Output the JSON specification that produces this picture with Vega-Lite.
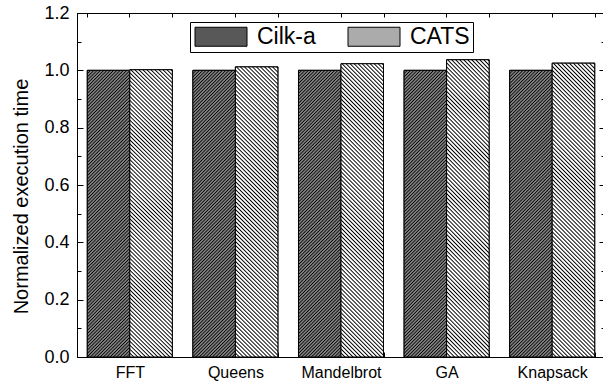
{
  "$schema": "https://vega.github.io/schema/vega-lite/v6.json",
  "width": 528,
  "height": 344,
  "autosize": "none",
  "padding": {"left": 77, "top": 13, "right": 0, "bottom": 24},
  "background": "white",
  "config": {
    "font": "Liberation Sans",
    "view": {"stroke": "black", "strokeWidth": 1},
    "axis": {"domainColor": "black", "tickColor": "black", "labelColor": "black", "titleColor": "black", "grid": false, "domainWidth": 1, "tickWidth": 1}
  },
  "data": {
    "values": [
      {"benchmark": "FFT", "system": "Cilk-a", "value": 1.0},
      {"benchmark": "FFT", "system": "CATS", "value": 1.002},
      {"benchmark": "Queens", "system": "Cilk-a", "value": 1.0},
      {"benchmark": "Queens", "system": "CATS", "value": 1.012},
      {"benchmark": "Mandelbrot", "system": "Cilk-a", "value": 1.0},
      {"benchmark": "Mandelbrot", "system": "CATS", "value": 1.023},
      {"benchmark": "GA", "system": "Cilk-a", "value": 1.0},
      {"benchmark": "GA", "system": "CATS", "value": 1.037},
      {"benchmark": "Knapsack", "system": "Cilk-a", "value": 1.0},
      {"benchmark": "Knapsack", "system": "CATS", "value": 1.025}
    ]
  },
  "layer": [
    {
      "mark": {"type": "bar", "stroke": "black", "strokeWidth": 1},
      "encoding": {
        "x": {
          "field": "benchmark", "type": "nominal",
          "sort": ["FFT", "Queens", "Mandelbrot", "GA", "Knapsack"],
          "scale": {"paddingInner": 0.195, "paddingOuter": 0.0975},
          "axis": {"orient": "top", "title": null, "labels": false, "domain": false, "tickBand": "extent", "tickSize": -4}
        },
        "xOffset": {"field": "system", "type": "nominal", "sort": ["Cilk-a", "CATS"], "scale": {"paddingInner": 0, "paddingOuter": 0}},
        "y": {
          "field": "value", "type": "quantitative",
          "scale": {"domain": [0, 1.2], "nice": false, "zero": true},
          "axis": {
            "orient": "right", "title": null, "labels": false, "domain": false,
            "values": [0, 0.1, 0.2, 0.3, 0.4, 0.5, 0.6, 0.7, 0.8, 0.9, 1.0, 1.1, 1.2],
            "tickSize": {"condition": {"test": "round(datum.value*10)%2==0", "value": -6}, "value": -4}
          }
        },
        "fill": {
          "field": "system", "type": "nominal", "sort": ["Cilk-a", "CATS"],
          "scale": {"domain": ["Cilk-a", "CATS"], "range": ["#585858", "#ababab"]},
          "legend": {
            "orient": "none", "legendX": 113, "legendY": 9, "direction": "horizontal",
            "title": null,
            "symbolType": "M-1,-1H4.474V1H-1Z", "symbolSize": 361,
            "symbolStrokeColor": "black", "symbolStrokeWidth": 1, "symbolOpacity": 1,
            "labelFontSize": 23, "labelFont": "Liberation Sans", "labelColor": "black",
            "labelOffset": 41, "columnPadding": 30, "padding": 3,
            "strokeColor": "black", "fillColor": "white"
          }
        }
      }
    },
    {
      "mark": {"type": "bar", "stroke": "black", "strokeWidth": 1},
      "encoding": {
        "x": {
          "field": "benchmark", "type": "nominal",
          "sort": ["FFT", "Queens", "Mandelbrot", "GA", "Knapsack"],
          "scale": {"paddingInner": 0.195, "paddingOuter": 0.0975},
          "axis": {"orient": "bottom", "title": null, "labelAngle": 0, "labelFontSize": 16, "labelPadding": 12, "tickBand": "extent", "tickSize": -5, "domain": true}
        },
        "xOffset": {"field": "system", "type": "nominal", "sort": ["Cilk-a", "CATS"], "scale": {"paddingInner": 0, "paddingOuter": 0}},
        "y": {
          "field": "value", "type": "quantitative",
          "scale": {"domain": [0, 1.2], "nice": false, "zero": true},
          "axis": {
            "orient": "left",
            "title": "Normalized execution time",
            "titleFontSize": 20, "titleFontWeight": "normal", "titleFont": "Liberation Sans",
            "titleAngle": 270, "titleAlign": "center", "titleBaseline": "alphabetic",
            "titleX": -50, "titleY": 183,
            "values": [0, 0.1, 0.2, 0.3, 0.4, 0.5, 0.6, 0.7, 0.8, 0.9, 1.0, 1.1, 1.2],
            "labelExpr": "round(datum.value*10)%2==0 ? format(datum.value, '.1f') : ''",
            "labelFontSize": 18, "labelPadding": 14,
            "tickSize": {"condition": {"test": "round(datum.value*10)%2==0", "value": -6}, "value": -4}
          }
        },
        "fill": {
          "condition": {"test": "datum.system === 'Cilk-a'", "value": {"gradient": "linear", "x1": 0, "y1": 0, "x2": 0.16657, "y2": 1.12355, "stops": [
            {"offset":0,"color":"#000"},{"offset":0.0033,"color":"#808080"},{"offset":0.0067,"color":"#808080"},
            {"offset":0.01,"color":"#000"},{"offset":0.0133,"color":"#808080"},{"offset":0.0167,"color":"#808080"},
            {"offset":0.02,"color":"#000"},{"offset":0.0233,"color":"#808080"},{"offset":0.0267,"color":"#808080"},
            {"offset":0.03,"color":"#000"},{"offset":0.0333,"color":"#808080"},{"offset":0.0367,"color":"#808080"},
            {"offset":0.04,"color":"#000"},{"offset":0.0433,"color":"#808080"},{"offset":0.0467,"color":"#808080"},
            {"offset":0.05,"color":"#000"},{"offset":0.0533,"color":"#808080"},{"offset":0.0567,"color":"#808080"},
            {"offset":0.06,"color":"#000"},{"offset":0.0633,"color":"#808080"},{"offset":0.0667,"color":"#808080"},
            {"offset":0.07,"color":"#000"},{"offset":0.0733,"color":"#808080"},{"offset":0.0767,"color":"#808080"},
            {"offset":0.08,"color":"#000"},{"offset":0.0833,"color":"#808080"},{"offset":0.0867,"color":"#808080"},
            {"offset":0.09,"color":"#000"},{"offset":0.0933,"color":"#808080"},{"offset":0.0967,"color":"#808080"},
            {"offset":0.1,"color":"#000"},{"offset":0.1033,"color":"#808080"},{"offset":0.1067,"color":"#808080"},
            {"offset":0.11,"color":"#000"},{"offset":0.1133,"color":"#808080"},{"offset":0.1167,"color":"#808080"},
            {"offset":0.12,"color":"#000"},{"offset":0.1233,"color":"#808080"},{"offset":0.1267,"color":"#808080"},
            {"offset":0.13,"color":"#000"},{"offset":0.1333,"color":"#808080"},{"offset":0.1367,"color":"#808080"},
            {"offset":0.14,"color":"#000"},{"offset":0.1433,"color":"#808080"},{"offset":0.1467,"color":"#808080"},
            {"offset":0.15,"color":"#000"},{"offset":0.1533,"color":"#808080"},{"offset":0.1567,"color":"#808080"},
            {"offset":0.16,"color":"#000"},{"offset":0.1633,"color":"#808080"},{"offset":0.1667,"color":"#808080"},
            {"offset":0.17,"color":"#000"},{"offset":0.1733,"color":"#808080"},{"offset":0.1767,"color":"#808080"},
            {"offset":0.18,"color":"#000"},{"offset":0.1833,"color":"#808080"},{"offset":0.1867,"color":"#808080"},
            {"offset":0.19,"color":"#000"},{"offset":0.1933,"color":"#808080"},{"offset":0.1967,"color":"#808080"},
            {"offset":0.2,"color":"#000"},{"offset":0.2033,"color":"#808080"},{"offset":0.2067,"color":"#808080"},
            {"offset":0.21,"color":"#000"},{"offset":0.2133,"color":"#808080"},{"offset":0.2167,"color":"#808080"},
            {"offset":0.22,"color":"#000"},{"offset":0.2233,"color":"#808080"},{"offset":0.2267,"color":"#808080"},
            {"offset":0.23,"color":"#000"},{"offset":0.2333,"color":"#808080"},{"offset":0.2367,"color":"#808080"},
            {"offset":0.24,"color":"#000"},{"offset":0.2433,"color":"#808080"},{"offset":0.2467,"color":"#808080"},
            {"offset":0.25,"color":"#000"},{"offset":0.2533,"color":"#808080"},{"offset":0.2567,"color":"#808080"},
            {"offset":0.26,"color":"#000"},{"offset":0.2633,"color":"#808080"},{"offset":0.2667,"color":"#808080"},
            {"offset":0.27,"color":"#000"},{"offset":0.2733,"color":"#808080"},{"offset":0.2767,"color":"#808080"},
            {"offset":0.28,"color":"#000"},{"offset":0.2833,"color":"#808080"},{"offset":0.2867,"color":"#808080"},
            {"offset":0.29,"color":"#000"},{"offset":0.2933,"color":"#808080"},{"offset":0.2967,"color":"#808080"},
            {"offset":0.3,"color":"#000"},{"offset":0.3033,"color":"#808080"},{"offset":0.3067,"color":"#808080"},
            {"offset":0.31,"color":"#000"},{"offset":0.3133,"color":"#808080"},{"offset":0.3167,"color":"#808080"},
            {"offset":0.32,"color":"#000"},{"offset":0.3233,"color":"#808080"},{"offset":0.3267,"color":"#808080"},
            {"offset":0.33,"color":"#000"},{"offset":0.3333,"color":"#808080"},{"offset":0.3367,"color":"#808080"},
            {"offset":0.34,"color":"#000"},{"offset":0.3433,"color":"#808080"},{"offset":0.3467,"color":"#808080"},
            {"offset":0.35,"color":"#000"},{"offset":0.3533,"color":"#808080"},{"offset":0.3567,"color":"#808080"},
            {"offset":0.36,"color":"#000"},{"offset":0.3633,"color":"#808080"},{"offset":0.3667,"color":"#808080"},
            {"offset":0.37,"color":"#000"},{"offset":0.3733,"color":"#808080"},{"offset":0.3767,"color":"#808080"},
            {"offset":0.38,"color":"#000"},{"offset":0.3833,"color":"#808080"},{"offset":0.3867,"color":"#808080"},
            {"offset":0.39,"color":"#000"},{"offset":0.3933,"color":"#808080"},{"offset":0.3967,"color":"#808080"},
            {"offset":0.4,"color":"#000"},{"offset":0.4033,"color":"#808080"},{"offset":0.4067,"color":"#808080"},
            {"offset":0.41,"color":"#000"},{"offset":0.4133,"color":"#808080"},{"offset":0.4167,"color":"#808080"},
            {"offset":0.42,"color":"#000"},{"offset":0.4233,"color":"#808080"},{"offset":0.4267,"color":"#808080"},
            {"offset":0.43,"color":"#000"},{"offset":0.4333,"color":"#808080"},{"offset":0.4367,"color":"#808080"},
            {"offset":0.44,"color":"#000"},{"offset":0.4433,"color":"#808080"},{"offset":0.4467,"color":"#808080"},
            {"offset":0.45,"color":"#000"},{"offset":0.4533,"color":"#808080"},{"offset":0.4567,"color":"#808080"},
            {"offset":0.46,"color":"#000"},{"offset":0.4633,"color":"#808080"},{"offset":0.4667,"color":"#808080"},
            {"offset":0.47,"color":"#000"},{"offset":0.4733,"color":"#808080"},{"offset":0.4767,"color":"#808080"},
            {"offset":0.48,"color":"#000"},{"offset":0.4833,"color":"#808080"},{"offset":0.4867,"color":"#808080"},
            {"offset":0.49,"color":"#000"},{"offset":0.4933,"color":"#808080"},{"offset":0.4967,"color":"#808080"},
            {"offset":0.5,"color":"#000"},{"offset":0.5033,"color":"#808080"},{"offset":0.5067,"color":"#808080"},
            {"offset":0.51,"color":"#000"},{"offset":0.5133,"color":"#808080"},{"offset":0.5167,"color":"#808080"},
            {"offset":0.52,"color":"#000"},{"offset":0.5233,"color":"#808080"},{"offset":0.5267,"color":"#808080"},
            {"offset":0.53,"color":"#000"},{"offset":0.5333,"color":"#808080"},{"offset":0.5367,"color":"#808080"},
            {"offset":0.54,"color":"#000"},{"offset":0.5433,"color":"#808080"},{"offset":0.5467,"color":"#808080"},
            {"offset":0.55,"color":"#000"},{"offset":0.5533,"color":"#808080"},{"offset":0.5567,"color":"#808080"},
            {"offset":0.56,"color":"#000"},{"offset":0.5633,"color":"#808080"},{"offset":0.5667,"color":"#808080"},
            {"offset":0.57,"color":"#000"},{"offset":0.5733,"color":"#808080"},{"offset":0.5767,"color":"#808080"},
            {"offset":0.58,"color":"#000"},{"offset":0.5833,"color":"#808080"},{"offset":0.5867,"color":"#808080"},
            {"offset":0.59,"color":"#000"},{"offset":0.5933,"color":"#808080"},{"offset":0.5967,"color":"#808080"},
            {"offset":0.6,"color":"#000"},{"offset":0.6033,"color":"#808080"},{"offset":0.6067,"color":"#808080"},
            {"offset":0.61,"color":"#000"},{"offset":0.6133,"color":"#808080"},{"offset":0.6167,"color":"#808080"},
            {"offset":0.62,"color":"#000"},{"offset":0.6233,"color":"#808080"},{"offset":0.6267,"color":"#808080"},
            {"offset":0.63,"color":"#000"},{"offset":0.6333,"color":"#808080"},{"offset":0.6367,"color":"#808080"},
            {"offset":0.64,"color":"#000"},{"offset":0.6433,"color":"#808080"},{"offset":0.6467,"color":"#808080"},
            {"offset":0.65,"color":"#000"},{"offset":0.6533,"color":"#808080"},{"offset":0.6567,"color":"#808080"},
            {"offset":0.66,"color":"#000"},{"offset":0.6633,"color":"#808080"},{"offset":0.6667,"color":"#808080"},
            {"offset":0.67,"color":"#000"},{"offset":0.6733,"color":"#808080"},{"offset":0.6767,"color":"#808080"},
            {"offset":0.68,"color":"#000"},{"offset":0.6833,"color":"#808080"},{"offset":0.6867,"color":"#808080"},
            {"offset":0.69,"color":"#000"},{"offset":0.6933,"color":"#808080"},{"offset":0.6967,"color":"#808080"},
            {"offset":0.7,"color":"#000"},{"offset":0.7033,"color":"#808080"},{"offset":0.7067,"color":"#808080"},
            {"offset":0.71,"color":"#000"},{"offset":0.7133,"color":"#808080"},{"offset":0.7167,"color":"#808080"},
            {"offset":0.72,"color":"#000"},{"offset":0.7233,"color":"#808080"},{"offset":0.7267,"color":"#808080"},
            {"offset":0.73,"color":"#000"},{"offset":0.7333,"color":"#808080"},{"offset":0.7367,"color":"#808080"},
            {"offset":0.74,"color":"#000"},{"offset":0.7433,"color":"#808080"},{"offset":0.7467,"color":"#808080"},
            {"offset":0.75,"color":"#000"},{"offset":0.7533,"color":"#808080"},{"offset":0.7567,"color":"#808080"},
            {"offset":0.76,"color":"#000"},{"offset":0.7633,"color":"#808080"},{"offset":0.7667,"color":"#808080"},
            {"offset":0.77,"color":"#000"},{"offset":0.7733,"color":"#808080"},{"offset":0.7767,"color":"#808080"},
            {"offset":0.78,"color":"#000"},{"offset":0.7833,"color":"#808080"},{"offset":0.7867,"color":"#808080"},
            {"offset":0.79,"color":"#000"},{"offset":0.7933,"color":"#808080"},{"offset":0.7967,"color":"#808080"},
            {"offset":0.8,"color":"#000"},{"offset":0.8033,"color":"#808080"},{"offset":0.8067,"color":"#808080"},
            {"offset":0.81,"color":"#000"},{"offset":0.8133,"color":"#808080"},{"offset":0.8167,"color":"#808080"},
            {"offset":0.82,"color":"#000"},{"offset":0.8233,"color":"#808080"},{"offset":0.8267,"color":"#808080"},
            {"offset":0.83,"color":"#000"},{"offset":0.8333,"color":"#808080"},{"offset":0.8367,"color":"#808080"},
            {"offset":0.84,"color":"#000"},{"offset":0.8433,"color":"#808080"},{"offset":0.8467,"color":"#808080"},
            {"offset":0.85,"color":"#000"},{"offset":0.8533,"color":"#808080"},{"offset":0.8567,"color":"#808080"},
            {"offset":0.86,"color":"#000"},{"offset":0.8633,"color":"#808080"},{"offset":0.8667,"color":"#808080"},
            {"offset":0.87,"color":"#000"},{"offset":0.8733,"color":"#808080"},{"offset":0.8767,"color":"#808080"},
            {"offset":0.88,"color":"#000"},{"offset":0.8833,"color":"#808080"},{"offset":0.8867,"color":"#808080"},
            {"offset":0.89,"color":"#000"},{"offset":0.8933,"color":"#808080"},{"offset":0.8967,"color":"#808080"},
            {"offset":0.9,"color":"#000"},{"offset":0.9033,"color":"#808080"},{"offset":0.9067,"color":"#808080"},
            {"offset":0.91,"color":"#000"},{"offset":0.9133,"color":"#808080"},{"offset":0.9167,"color":"#808080"},
            {"offset":0.92,"color":"#000"},{"offset":0.9233,"color":"#808080"},{"offset":0.9267,"color":"#808080"},
            {"offset":0.93,"color":"#000"},{"offset":0.9333,"color":"#808080"},{"offset":0.9367,"color":"#808080"},
            {"offset":0.94,"color":"#000"},{"offset":0.9433,"color":"#808080"},{"offset":0.9467,"color":"#808080"},
            {"offset":0.95,"color":"#000"},{"offset":0.9533,"color":"#808080"},{"offset":0.9567,"color":"#808080"},
            {"offset":0.96,"color":"#000"},{"offset":0.9633,"color":"#808080"},{"offset":0.9667,"color":"#808080"},
            {"offset":0.97,"color":"#000"},{"offset":0.9733,"color":"#808080"},{"offset":0.9767,"color":"#808080"},
            {"offset":0.98,"color":"#000"},{"offset":0.9833,"color":"#808080"},{"offset":0.9867,"color":"#808080"},
            {"offset":0.99,"color":"#000"},{"offset":0.9933,"color":"#808080"},{"offset":0.9967,"color":"#808080"},
            {"offset":1,"color":"#000"}
          ]}},
          "value": {"gradient": "linear", "x1": 0, "y1": 1, "x2": 0.16327, "y2": -0.12177, "stops": [
            {"offset":0,"color":"#000"},{"offset":0.004,"color":"#fff"},{"offset":0.008,"color":"#fff"},
            {"offset":0.012,"color":"#000"},{"offset":0.016,"color":"#fff"},{"offset":0.02,"color":"#fff"},
            {"offset":0.024,"color":"#000"},{"offset":0.028,"color":"#fff"},{"offset":0.032,"color":"#fff"},
            {"offset":0.036,"color":"#000"},{"offset":0.04,"color":"#fff"},{"offset":0.044,"color":"#fff"},
            {"offset":0.048,"color":"#000"},{"offset":0.052,"color":"#fff"},{"offset":0.056,"color":"#fff"},
            {"offset":0.06,"color":"#000"},{"offset":0.064,"color":"#fff"},{"offset":0.068,"color":"#fff"},
            {"offset":0.072,"color":"#000"},{"offset":0.076,"color":"#fff"},{"offset":0.08,"color":"#fff"},
            {"offset":0.084,"color":"#000"},{"offset":0.088,"color":"#fff"},{"offset":0.092,"color":"#fff"},
            {"offset":0.096,"color":"#000"},{"offset":0.1,"color":"#fff"},{"offset":0.104,"color":"#fff"},
            {"offset":0.108,"color":"#000"},{"offset":0.112,"color":"#fff"},{"offset":0.116,"color":"#fff"},
            {"offset":0.12,"color":"#000"},{"offset":0.124,"color":"#fff"},{"offset":0.128,"color":"#fff"},
            {"offset":0.132,"color":"#000"},{"offset":0.136,"color":"#fff"},{"offset":0.14,"color":"#fff"},
            {"offset":0.144,"color":"#000"},{"offset":0.148,"color":"#fff"},{"offset":0.152,"color":"#fff"},
            {"offset":0.156,"color":"#000"},{"offset":0.16,"color":"#fff"},{"offset":0.164,"color":"#fff"},
            {"offset":0.168,"color":"#000"},{"offset":0.172,"color":"#fff"},{"offset":0.176,"color":"#fff"},
            {"offset":0.18,"color":"#000"},{"offset":0.184,"color":"#fff"},{"offset":0.188,"color":"#fff"},
            {"offset":0.192,"color":"#000"},{"offset":0.196,"color":"#fff"},{"offset":0.2,"color":"#fff"},
            {"offset":0.204,"color":"#000"},{"offset":0.208,"color":"#fff"},{"offset":0.212,"color":"#fff"},
            {"offset":0.216,"color":"#000"},{"offset":0.22,"color":"#fff"},{"offset":0.224,"color":"#fff"},
            {"offset":0.228,"color":"#000"},{"offset":0.232,"color":"#fff"},{"offset":0.236,"color":"#fff"},
            {"offset":0.24,"color":"#000"},{"offset":0.244,"color":"#fff"},{"offset":0.248,"color":"#fff"},
            {"offset":0.252,"color":"#000"},{"offset":0.256,"color":"#fff"},{"offset":0.26,"color":"#fff"},
            {"offset":0.264,"color":"#000"},{"offset":0.268,"color":"#fff"},{"offset":0.272,"color":"#fff"},
            {"offset":0.276,"color":"#000"},{"offset":0.28,"color":"#fff"},{"offset":0.284,"color":"#fff"},
            {"offset":0.288,"color":"#000"},{"offset":0.292,"color":"#fff"},{"offset":0.296,"color":"#fff"},
            {"offset":0.3,"color":"#000"},{"offset":0.304,"color":"#fff"},{"offset":0.308,"color":"#fff"},
            {"offset":0.312,"color":"#000"},{"offset":0.316,"color":"#fff"},{"offset":0.32,"color":"#fff"},
            {"offset":0.324,"color":"#000"},{"offset":0.328,"color":"#fff"},{"offset":0.332,"color":"#fff"},
            {"offset":0.336,"color":"#000"},{"offset":0.34,"color":"#fff"},{"offset":0.344,"color":"#fff"},
            {"offset":0.348,"color":"#000"},{"offset":0.352,"color":"#fff"},{"offset":0.356,"color":"#fff"},
            {"offset":0.36,"color":"#000"},{"offset":0.364,"color":"#fff"},{"offset":0.368,"color":"#fff"},
            {"offset":0.372,"color":"#000"},{"offset":0.376,"color":"#fff"},{"offset":0.38,"color":"#fff"},
            {"offset":0.384,"color":"#000"},{"offset":0.388,"color":"#fff"},{"offset":0.392,"color":"#fff"},
            {"offset":0.396,"color":"#000"},{"offset":0.4,"color":"#fff"},{"offset":0.404,"color":"#fff"},
            {"offset":0.408,"color":"#000"},{"offset":0.412,"color":"#fff"},{"offset":0.416,"color":"#fff"},
            {"offset":0.42,"color":"#000"},{"offset":0.424,"color":"#fff"},{"offset":0.428,"color":"#fff"},
            {"offset":0.432,"color":"#000"},{"offset":0.436,"color":"#fff"},{"offset":0.44,"color":"#fff"},
            {"offset":0.444,"color":"#000"},{"offset":0.448,"color":"#fff"},{"offset":0.452,"color":"#fff"},
            {"offset":0.456,"color":"#000"},{"offset":0.46,"color":"#fff"},{"offset":0.464,"color":"#fff"},
            {"offset":0.468,"color":"#000"},{"offset":0.472,"color":"#fff"},{"offset":0.476,"color":"#fff"},
            {"offset":0.48,"color":"#000"},{"offset":0.484,"color":"#fff"},{"offset":0.488,"color":"#fff"},
            {"offset":0.492,"color":"#000"},{"offset":0.496,"color":"#fff"},{"offset":0.5,"color":"#fff"},
            {"offset":0.504,"color":"#000"},{"offset":0.508,"color":"#fff"},{"offset":0.512,"color":"#fff"},
            {"offset":0.516,"color":"#000"},{"offset":0.52,"color":"#fff"},{"offset":0.524,"color":"#fff"},
            {"offset":0.528,"color":"#000"},{"offset":0.532,"color":"#fff"},{"offset":0.536,"color":"#fff"},
            {"offset":0.54,"color":"#000"},{"offset":0.544,"color":"#fff"},{"offset":0.548,"color":"#fff"},
            {"offset":0.552,"color":"#000"},{"offset":0.556,"color":"#fff"},{"offset":0.56,"color":"#fff"},
            {"offset":0.564,"color":"#000"},{"offset":0.568,"color":"#fff"},{"offset":0.572,"color":"#fff"},
            {"offset":0.576,"color":"#000"},{"offset":0.58,"color":"#fff"},{"offset":0.584,"color":"#fff"},
            {"offset":0.588,"color":"#000"},{"offset":0.592,"color":"#fff"},{"offset":0.596,"color":"#fff"},
            {"offset":0.6,"color":"#000"},{"offset":0.604,"color":"#fff"},{"offset":0.608,"color":"#fff"},
            {"offset":0.612,"color":"#000"},{"offset":0.616,"color":"#fff"},{"offset":0.62,"color":"#fff"},
            {"offset":0.624,"color":"#000"},{"offset":0.628,"color":"#fff"},{"offset":0.632,"color":"#fff"},
            {"offset":0.636,"color":"#000"},{"offset":0.64,"color":"#fff"},{"offset":0.644,"color":"#fff"},
            {"offset":0.648,"color":"#000"},{"offset":0.652,"color":"#fff"},{"offset":0.656,"color":"#fff"},
            {"offset":0.66,"color":"#000"},{"offset":0.664,"color":"#fff"},{"offset":0.668,"color":"#fff"},
            {"offset":0.672,"color":"#000"},{"offset":0.676,"color":"#fff"},{"offset":0.68,"color":"#fff"},
            {"offset":0.684,"color":"#000"},{"offset":0.688,"color":"#fff"},{"offset":0.692,"color":"#fff"},
            {"offset":0.696,"color":"#000"},{"offset":0.7,"color":"#fff"},{"offset":0.704,"color":"#fff"},
            {"offset":0.708,"color":"#000"},{"offset":0.712,"color":"#fff"},{"offset":0.716,"color":"#fff"},
            {"offset":0.72,"color":"#000"},{"offset":0.724,"color":"#fff"},{"offset":0.728,"color":"#fff"},
            {"offset":0.732,"color":"#000"},{"offset":0.736,"color":"#fff"},{"offset":0.74,"color":"#fff"},
            {"offset":0.744,"color":"#000"},{"offset":0.748,"color":"#fff"},{"offset":0.752,"color":"#fff"},
            {"offset":0.756,"color":"#000"},{"offset":0.76,"color":"#fff"},{"offset":0.764,"color":"#fff"},
            {"offset":0.768,"color":"#000"},{"offset":0.772,"color":"#fff"},{"offset":0.776,"color":"#fff"},
            {"offset":0.78,"color":"#000"},{"offset":0.784,"color":"#fff"},{"offset":0.788,"color":"#fff"},
            {"offset":0.792,"color":"#000"},{"offset":0.796,"color":"#fff"},{"offset":0.8,"color":"#fff"},
            {"offset":0.804,"color":"#000"},{"offset":0.808,"color":"#fff"},{"offset":0.812,"color":"#fff"},
            {"offset":0.816,"color":"#000"},{"offset":0.82,"color":"#fff"},{"offset":0.824,"color":"#fff"},
            {"offset":0.828,"color":"#000"},{"offset":0.832,"color":"#fff"},{"offset":0.836,"color":"#fff"},
            {"offset":0.84,"color":"#000"},{"offset":0.844,"color":"#fff"},{"offset":0.848,"color":"#fff"},
            {"offset":0.852,"color":"#000"},{"offset":0.856,"color":"#fff"},{"offset":0.86,"color":"#fff"},
            {"offset":0.864,"color":"#000"},{"offset":0.868,"color":"#fff"},{"offset":0.872,"color":"#fff"},
            {"offset":0.876,"color":"#000"},{"offset":0.88,"color":"#fff"},{"offset":0.884,"color":"#fff"},
            {"offset":0.888,"color":"#000"},{"offset":0.892,"color":"#fff"},{"offset":0.896,"color":"#fff"},
            {"offset":0.9,"color":"#000"},{"offset":0.904,"color":"#fff"},{"offset":0.908,"color":"#fff"},
            {"offset":0.912,"color":"#000"},{"offset":0.916,"color":"#fff"},{"offset":0.92,"color":"#fff"},
            {"offset":0.924,"color":"#000"},{"offset":0.928,"color":"#fff"},{"offset":0.932,"color":"#fff"},
            {"offset":0.936,"color":"#000"},{"offset":0.94,"color":"#fff"},{"offset":0.944,"color":"#fff"},
            {"offset":0.948,"color":"#000"},{"offset":0.952,"color":"#fff"},{"offset":0.956,"color":"#fff"},
            {"offset":0.96,"color":"#000"},{"offset":0.964,"color":"#fff"},{"offset":0.968,"color":"#fff"},
            {"offset":0.972,"color":"#000"},{"offset":0.976,"color":"#fff"},{"offset":0.98,"color":"#fff"},
            {"offset":0.984,"color":"#000"},{"offset":0.988,"color":"#fff"},{"offset":0.992,"color":"#fff"},
            {"offset":0.996,"color":"#000"},{"offset":1,"color":"#fff"}
          ]}
        }
      }
    },
    {
      "mark": {"type": "bar", "opacity": 0},
      "encoding": {
        "x": {
          "field": "benchmark", "type": "nominal",
          "sort": ["FFT", "Queens", "Mandelbrot", "GA", "Knapsack"],
          "scale": {"paddingInner": 0.195, "paddingOuter": 0.0975},
          "axis": {"orient": "top", "title": null, "labels": false, "domain": false, "tickBand": "center", "tickSize": -4}
        }
      }
    }
  ],
  "resolve": {"axis": {"x": "independent", "y": "independent"}}
}
